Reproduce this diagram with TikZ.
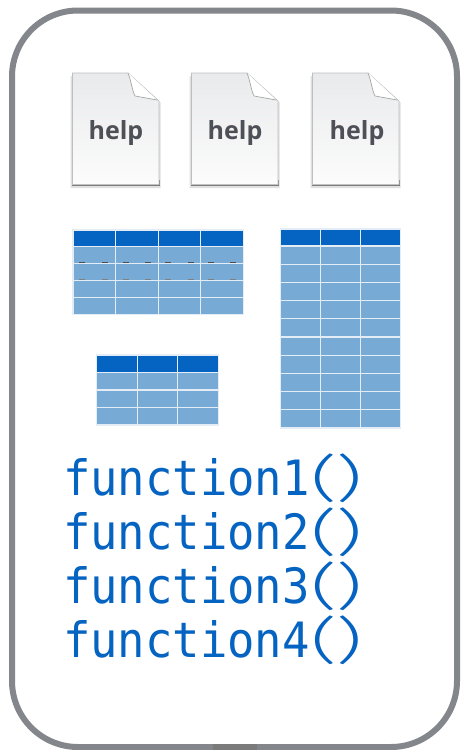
\documentclass[tikz,border=0pt]{standalone}
\usepackage{fontspec}
\usepackage{graphicx}
\newfontfamily\helpfont{Open Sans}
\newfontfamily\codefont{DejaVu Sans Mono}
\newfontfamily\parenfont{Lato Light}
\definecolor{frame}{HTML}{83868B}
\definecolor{tabgray}{HTML}{7A7A7A}
\definecolor{headblue}{HTML}{0563C1}
\definecolor{rowblue}{HTML}{78AAD6}
\definecolor{gridline}{HTML}{E4EDF6}
\definecolor{helptext}{HTML}{4D5157}
\definecolor{pagetop}{HTML}{E9EAEC}
\definecolor{pagebot}{HTML}{FCFCFC}
\tikzset{
  x=1pt,y=-1pt,
  outerframe/.style={draw=frame,line width=6pt,fill=white,rounded corners=66pt},
  helplabel/.style={font=\helpfont\bfseries\fontsize{25}{25}\selectfont,text=helptext,inner sep=0pt,anchor=base},
  codelabel/.style={font=\codefont\fontsize{45.5}{45.5}\selectfont,text=headblue,inner sep=0pt,anchor=base west},
  pagebody/.style={top color=pagetop,bottom color=pagebot},
  tablemark/.style={draw=black!70,line width=1pt},
}
\newcommand{\bigparens}{{\parenfont\fontsize{51}{51}\selectfont\makebox[27pt]{\scalebox{2.1}[1]{(}}\makebox[27pt]{\scalebox{2.1}[1]{)}}}}
\newcommand{\codeline}[1]{\scalebox{1}[1.07]{function#1\bigparens}}
% #1 left, #2 top, #3 col width, #4 columns, #5 header h, #6 row h, #7 rows
\newcommand{\drawgrid}[7]{%
  \foreach \cc in {1,...,#4}{%
    \fill[headblue] ({#1+(\cc-1)*#3},#2) rectangle ({#1+\cc*#3},{#2+#5});
    \draw[gridline,line width=1.1pt] ({#1+(\cc-1)*#3},#2) rectangle ({#1+\cc*#3},{#2+#5});
    \foreach \rr in {1,...,#7}{%
      \fill[rowblue] ({#1+(\cc-1)*#3},{#2+#5+(\rr-1)*#6}) rectangle ({#1+\cc*#3},{#2+#5+\rr*#6});
      \draw[gridline,line width=1.1pt] ({#1+(\cc-1)*#3},{#2+#5+(\rr-1)*#6}) rectangle ({#1+\cc*#3},{#2+#5+\rr*#6});
    }%
  }%
}
% #1 left, #2 node name, #3 text centre offset
\newcommand{\drawdoc}[3]{%
  \fill[black!12] (#1-1.5,76) -- (#1-1.5,188) -- (#1+88.5,188) -- (#1+88.5,102) -- cycle;
  \fill[black!55] (#1,180) rectangle (#1+87.5,186.3);
  \path[pagebody,draw=black!25,line width=.7pt] (#1+.5,73) -- (#1+56,73) -- (#1+87,101) -- (#1+87,184.7) -- (#1+.5,184.7) -- cycle;
  \fill[white] (#1+56,73) -- (#1+84,99) -- (#1+63,96.5) .. controls (#1+60,90) and (#1+59,80) .. cycle;
  \draw[black!35,line width=.7pt] (#1+56,73) .. controls (#1+59,80) and (#1+60,90) .. (#1+63,96) -- (#1+85,100);
  \node[helplabel] (#2) at (#1+#3,139) {help};
}
\begin{document}
\begin{tikzpicture}
\useasboundingbox (0,0) rectangle (461,750);
\draw[outerframe] (12,10.5) rectangle (457,747);
\fill[tabgray] (213,744) rectangle (257,750);
\drawdoc{72}{helpa}{44}
\drawdoc{191}{helpb}{44}
\drawdoc{312}{helpc}{45}
\drawgrid{73}{230}{42.6}{4}{16.5}{17}{4}
\foreach \mx in {82,105,126,148,168,191,211,233}{
  \draw[tablemark] (\mx-3,262.5) -- (\mx+3,262.5);
  \draw[tablemark,draw=black!50] (\mx-3,279.7) -- (\mx+3,279.7);
}
\drawgrid{280.7}{229}{40}{3}{17}{18.2}{10}
\drawgrid{96.5}{355}{40.7}{3}{17.5}{17.5}{3}
\node[codelabel] (fa) at (63,495) {\codeline{1}};
\node[codelabel] (fb) at (63,549) {\codeline{2}};
\node[codelabel] (fc) at (63,603) {\codeline{3}};
\node[codelabel] (fd) at (63,657) {\codeline{4}};
\end{tikzpicture}
\end{document}
